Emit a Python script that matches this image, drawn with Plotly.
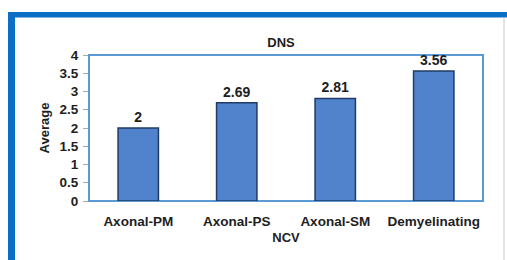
import plotly.graph_objects as go

categories = ["Axonal-PM", "Axonal-PS", "Axonal-SM", "Demyelinating"]
values = [2, 2.69, 2.81, 3.56]
labels = ["2", "2.69", "2.81", "3.56"]
yticks = [0, 0.5, 1, 1.5, 2, 2.5, 3, 3.5, 4]
yticklabels = ["0", "0.5", "1", "1.5", "2", "2.5", "3", "3.5", "4"]

W, H = 507, 260
L, R, T, B = 89, 483, 55, 201

def px(x):
    return (x - L) / (R - L)

def py(y):
    return (B - y) / (B - T)

font = "Liberation Sans, Arial"
tc = "#1e1e1e"

fig = go.Figure()
fig.add_trace(go.Bar(
    x=categories, y=values, text=["<b>%s</b>" % t for t in labels], textposition="outside",
    textfont=dict(family=font, size=14, color=tc),
    marker=dict(color="#5083cc", line=dict(color="#1f3b66", width=1.5)),
    width=0.41, cliponaxis=False,
))

fig.update_layout(
    width=W, height=H,
    margin=dict(l=L, r=W - R, t=T, b=H - B),
    paper_bgcolor="white", plot_bgcolor="white",
    showlegend=False,
    title=dict(text="<b>DNS</b>", xref="container", x=281 / W, xanchor="center",
               yref="container", y=1 - 42 / H, yanchor="middle",
               font=dict(family=font, size=13, color=tc)),
    font=dict(family=font, size=13, color=tc),
    xaxis=dict(showline=False, showgrid=False, ticks="outside", ticklen=8,
               tickcolor="rgba(0,0,0,0)", automargin=False,
               tickfont=dict(family=font, size=13.5, color=tc),
               ticktext=["<b>%s</b>" % c for c in categories], tickvals=categories,
               title=dict(text="<b>NCV</b>", font=dict(family=font, size=13, color=tc), standoff=4)),
    yaxis=dict(range=[0, 4], tickvals=yticks, ticktext=["<b>%s</b>" % t for t in yticklabels],
               showgrid=False, showline=False, ticks="outside", ticklen=5, tickcolor="#aaa",
               ticklabelstandoff=2, automargin=False,
               tickfont=dict(family=font, size=13.5, color=tc),
               title=dict(text="<b>Average</b>", font=dict(family=font, size=13, color=tc), standoff=6),
               zeroline=False),
)

shapes = [
    dict(type="rect", xref="paper", yref="paper", x0=0, x1=1, y0=0, y1=1,
         line=dict(color="#5b9bd5", width=2), fillcolor="rgba(0,0,0,0)", layer="below"),
    dict(type="rect", xref="paper", yref="paper", x0=px(8), x1=px(508), y0=py(12), y1=py(17.5),
         line=dict(width=0), fillcolor="#0b6fc4"),
    dict(type="rect", xref="paper", yref="paper", x0=px(8), x1=px(15), y0=py(12), y1=py(261),
         line=dict(width=0), fillcolor="#0b6fc4"),
    dict(type="line", xref="paper", yref="paper", x0=px(504), x1=px(504), y0=py(17), y1=py(261),
         line=dict(color="#c8c8c8", width=1)),
]
fig.update_layout(shapes=shapes)

fig.write_html("out.html", config={"displayModeBar": False},
               post_script="document.body.style.margin='0';document.body.style.padding='0';")
